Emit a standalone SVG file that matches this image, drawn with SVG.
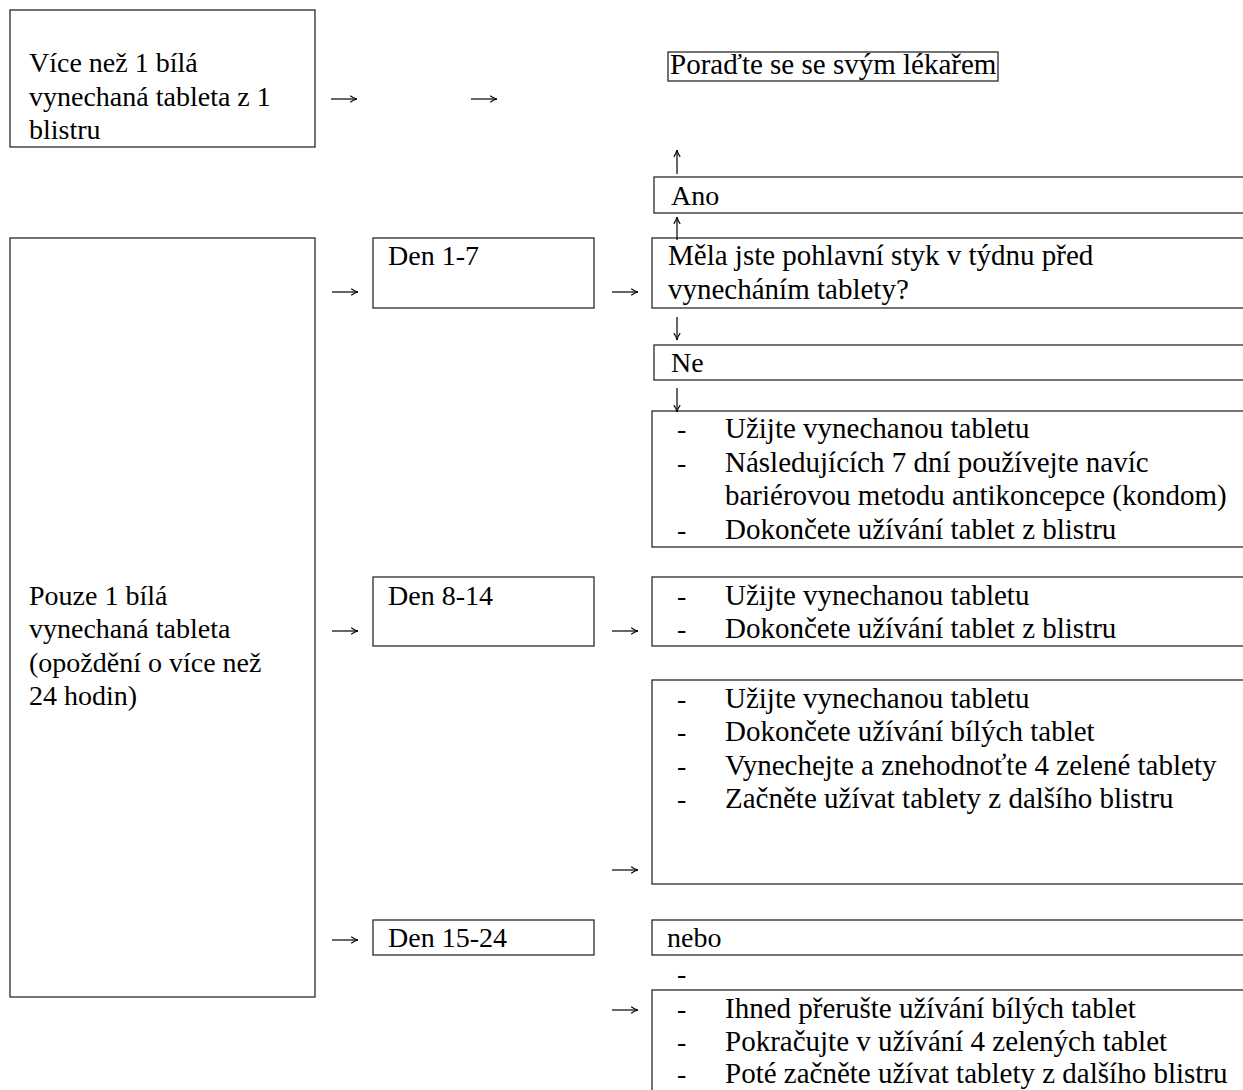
<svg xmlns="http://www.w3.org/2000/svg" width="1243" height="1090" viewBox="0 0 1243 1090">
<style>
  rect.b { fill: #ffffff; stroke: #2a2a2a; stroke-width: 1.3; }
  text { font-family: "Liberation Serif", "Times New Roman", serif; font-size: 28px; fill: #000; }
  text.r { font-size: 29px; }
  path.c { fill: none; stroke: #000; stroke-width: 1.2; marker-end: url(#ah); }
</style>
<defs>
  <marker id="ah" viewBox="0 0 10 10" refX="9.5" refY="5" markerWidth="8" markerHeight="8" orient="auto" markerUnits="userSpaceOnUse">
    <path d="M1,1 Q5,4 9.5,5 Q5,6 1,9" fill="none" stroke="#000" stroke-width="1.4"/>
  </marker>
</defs>
<rect width="1243" height="1090" fill="#ffffff"/>

<g id="node-more-than-one">
  <rect class="b" x="10" y="10" width="305" height="137"/>
  <text x="29" y="72">Více než 1 bílá</text>
  <text x="29" y="106">vynechaná tableta z 1</text>
  <text x="29" y="139">blistru</text>
</g>

<g id="node-consult">
  <rect class="b" x="668" y="52" width="330" height="29"/>
  <text class="r" x="670" y="74">Poraďte se se svým lékařem</text>
</g>

<g id="node-ano">
  <rect class="b" x="654" y="177" width="600" height="36"/>
  <text x="671" y="205">Ano</text>
</g>

<g id="node-only-one">
  <rect class="b" x="10" y="238" width="305" height="759"/>
  <text x="29" y="605">Pouze 1 bílá</text>
  <text x="29" y="638">vynechaná tableta</text>
  <text x="29" y="672">(opoždění o více než</text>
  <text x="29" y="705">24 hodin)</text>
</g>

<g id="node-den1-7">
  <rect class="b" x="373" y="238" width="221" height="70"/>
  <text x="388" y="265">Den 1-7</text>
</g>

<g id="node-question">
  <rect class="b" x="652" y="238" width="600" height="70"/>
  <text class="r" x="668" y="265">Měla jste pohlavní styk v týdnu před</text>
  <text class="r" x="668" y="299">vynecháním tablety?</text>
</g>

<g id="node-ne">
  <rect class="b" x="654" y="345" width="600" height="35"/>
  <text x="671" y="372">Ne</text>
</g>

<g id="node-list1">
  <rect class="b" x="652" y="411" width="600" height="136"/>
  <text x="677" y="438">-</text><text class="r" x="725" y="438">Užijte vynechanou tabletu</text>
  <text x="677" y="472">-</text><text class="r" x="725" y="472">Následujících 7 dní používejte navíc</text>
  <text class="r" x="725" y="505">bariérovou metodu antikoncepce (kondom)</text>
  <text x="677" y="539">-</text><text class="r" x="725" y="539">Dokončete užívání tablet z blistru</text>
</g>

<g id="node-den8-14">
  <rect class="b" x="373" y="577" width="221" height="69"/>
  <text x="388" y="605">Den 8-14</text>
</g>

<g id="node-list2">
  <rect class="b" x="652" y="577" width="600" height="69"/>
  <text x="677" y="605">-</text><text class="r" x="725" y="605">Užijte vynechanou tabletu</text>
  <text x="677" y="638">-</text><text class="r" x="725" y="638">Dokončete užívání tablet z blistru</text>
</g>

<g id="node-list3">
  <rect class="b" x="652" y="680" width="600" height="204"/>
  <text x="677" y="708">-</text><text class="r" x="725" y="708">Užijte vynechanou tabletu</text>
  <text x="677" y="741">-</text><text class="r" x="725" y="741">Dokončete užívání bílých tablet</text>
  <text x="677" y="775">-</text><text class="r" x="725" y="775">Vynechejte a znehodnoťte 4 zelené tablety</text>
  <text x="677" y="808">-</text><text class="r" x="725" y="808">Začněte užívat tablety z dalšího blistru</text>
</g>

<g id="node-den15-24">
  <rect class="b" x="373" y="920" width="221" height="35"/>
  <text x="388" y="947">Den 15-24</text>
</g>

<g id="node-nebo">
  <rect class="b" x="652" y="920" width="600" height="35"/>
  <text x="667" y="947">nebo</text>
  <text x="677" y="983">-</text>
</g>

<g id="node-list4">
  <rect class="b" x="652" y="990" width="600" height="120"/>
  <text x="677" y="1018">-</text><text class="r" x="725" y="1018">Ihned přerušte užívání bílých tablet</text>
  <text x="677" y="1051">-</text><text class="r" x="725" y="1051">Pokračujte v užívání 4 zelených tablet</text>
  <text x="677" y="1083">-</text><text class="r" x="725" y="1083">Poté začněte užívat tablety z dalšího blistru</text>
</g>

<g id="connectors">
  <path class="c" d="M331,99 H357"/>
  <path class="c" d="M471,99 H497"/>
  <path class="c" d="M677,174 V150"/>
  <path class="c" d="M677,240 V217"/>
  <path class="c" d="M332,292 H358"/>
  <path class="c" d="M612,292 H638"/>
  <path class="c" d="M677,317 V340"/>
  <path class="c" d="M677,388 V412"/>
  <path class="c" d="M332,631 H358"/>
  <path class="c" d="M612,631 H638"/>
  <path class="c" d="M612,870 H638"/>
  <path class="c" d="M332,940 H358"/>
  <path class="c" d="M612,1010 H638"/>
</g>
</svg>
